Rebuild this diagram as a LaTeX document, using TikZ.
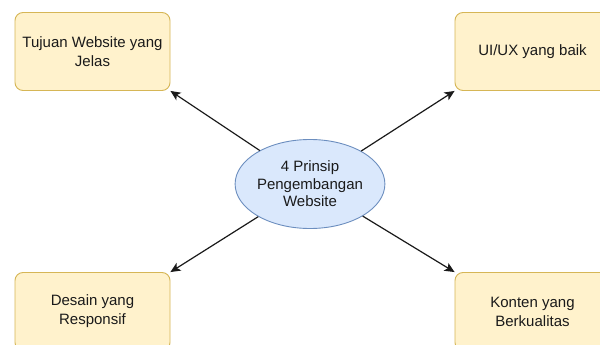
\documentclass[tikz,border=0pt]{standalone}
\usepackage{fontspec}
\setmainfont{Liberation Sans}
\usetikzlibrary{arrows.meta}
\definecolor{boxfill}{HTML}{FFF2CC}
\definecolor{boxline}{HTML}{D6B656}
\definecolor{ellfill}{HTML}{DAE8FC}
\definecolor{ellline}{HTML}{6C8EBF}
\definecolor{ink}{HTML}{1A1A1A}
\tikzset{
  topic/.style={draw=boxline, fill=boxfill, line width=0.9pt, rounded corners=8pt,
    minimum width=155pt, minimum height=78pt, align=center, text=ink,
    font=\fontsize{15pt}{19pt}\selectfont, inner sep=2pt},
  hub/.style={ellipse, draw=ellline, fill=ellfill, line width=0.9pt,
    minimum width=147pt, minimum height=89pt, align=center, text=ink,
    font=\fontsize{15pt}{17.5pt}\selectfont, inner sep=0pt},
  link/.style={draw=ink, line width=1.2pt, -{Stealth[length=10pt,width=9pt,inset=2.5pt]}}
}
\usetikzlibrary{shapes.geometric}
\begin{document}
\begin{tikzpicture}[x=1pt, y=-1pt]
  \useasboundingbox (0,0) rectangle (600,345);
  \clip (0,0) rectangle (600,345);
  \fill[white] (0,0) rectangle (600,345);
  \node[hub] (c) at (310,184) {4 Prinsip\\Pengembangan\\Website};
  \node[topic] (tl) at (92.5,51.5) {Tujuan Website yang\\Jelas};
  \node[topic] (tr) at (532.5,51.5) {UI/UX yang baik};
  \node[topic] (bl) at (92.5,311.5) {Desain yang\\Responsif};
  \node[topic] (br) at (532.5,311.5) {Konten yang\\Berkualitas};
  \draw[link] (c) -- (tl.south east);
  \draw[link] (c) -- (tr.south west);
  \draw[link] (c) -- (bl.north east);
  \draw[link] (c) -- (br.north west);
\end{tikzpicture}
\end{document}
